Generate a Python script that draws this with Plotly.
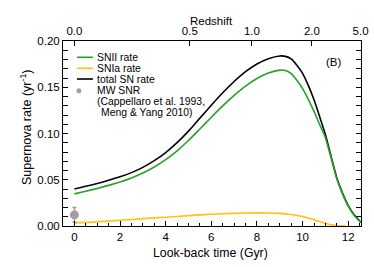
import plotly.graph_objects as go

# Look-back time (Gyr) sample points
lookback = [0, 0.5, 1, 1.5, 2, 2.5, 3, 3.5, 4, 4.5, 5, 5.5, 6, 6.5, 7, 7.5, 8, 8.5, 9,
            9.25, 9.5, 9.75, 10, 10.25, 10.5, 10.75, 11, 11.25, 11.5, 11.75, 12, 12.25, 12.56]
total_rate = [0.0401, 0.0429, 0.0460, 0.0494, 0.0532, 0.0577, 0.0634, 0.0706, 0.0794, 0.0901, 0.1026,
              0.1166, 0.1306, 0.1440, 0.1562, 0.1668, 0.1752, 0.1809, 0.1838,
              0.1834, 0.1806, 0.1737, 0.1650, 0.1520, 0.1365, 0.1180, 0.0990, 0.0750, 0.0520, 0.0355,
              0.0220, 0.0125, 0.0040]
snii_rate = [0.0347, 0.0375, 0.0406, 0.0439, 0.0476, 0.0519, 0.0572, 0.0638, 0.0717, 0.0813, 0.0924,
             0.1049, 0.1176, 0.1298, 0.1412, 0.1513, 0.1595, 0.1654, 0.1685,
             0.1680, 0.1648, 0.1575, 0.1485, 0.1370, 0.1240, 0.1095, 0.0955, 0.0735, 0.0510, 0.0347,
             0.0214, 0.0120, 0.0036]
snia_lookback = [0, 1, 2, 3, 4, 5, 6, 7, 8, 8.5, 9, 9.5, 10, 10.5, 11, 11.25, 11.5, 11.9]
snia_rate = [0.0034, 0.0045, 0.0062, 0.0080, 0.0095, 0.0112, 0.0127, 0.0137, 0.0142, 0.0141, 0.0137,
             0.0124, 0.0103, 0.0068, 0.0030, 0.0012, 0.0002, 0.0]

# Milky Way SNR point
mw_time = [0]
mw_rate = [0.012]
mw_err = [0.008]

# Top axis: redshift ticks at corresponding look-back times
z_tick_lookback = [0, 5.06, 7.78, 10.41, 12.54]
z_tick_labels = ["0.0", "0.5", "1.0", "2.0", "5.0"]

FONT = "Liberation Sans, Arial, Helvetica, sans-serif"
GREEN = "#27a02a"
YELLOW = "#ffc20e"
GRAY = "#a0a0a0"

line_style = dict(width=1.6, shape="spline", smoothing=0.6)
fig = go.Figure()
fig.add_trace(go.Scatter(x=lookback, y=total_rate, mode="lines", line=dict(color="black", **line_style), showlegend=False))
fig.add_trace(go.Scatter(x=lookback, y=snii_rate, mode="lines", line=dict(color=GREEN, **line_style), showlegend=False))
fig.add_trace(go.Scatter(x=snia_lookback, y=snia_rate, mode="lines", line=dict(color=YELLOW, **line_style), showlegend=False))
fig.add_trace(go.Scatter(x=mw_time, y=mw_rate, mode="markers",
                         marker=dict(color=GRAY, size=9),
                         error_y=dict(type="data", array=mw_err, color=GRAY, thickness=1.5, width=2),
                         showlegend=False, cliponaxis=False))
# invisible trace to carry the top axis
fig.add_trace(go.Scatter(x=z_tick_lookback, y=[0.1]*len(z_tick_lookback), xaxis="x2", mode="lines",
                         line=dict(width=0), opacity=0, showlegend=False, hoverinfo="skip"))

x0, x1 = 63, 361.5
y0, y1 = 226, 41
W, H = 374, 267
def px(x): return (x - x0) / (x1 - x0)
def py(y): return (y0 - y) / (y0 - y1)

# compact legend drawn inside the plot
legend_items = [("SNII rate", GREEN, 57.3), ("SNIa rate", YELLOW, 68.3), ("total SN rate", "black", 79.0)]
shapes = []
annotations = []
LEG = 10.4
for name, col, yy in legend_items:
    shapes.append(dict(type="line", xref="paper", yref="paper", x0=px(77), x1=px(93), y0=py(yy), y1=py(yy),
                       line=dict(color=col, width=1.6)))
    annotations.append(dict(xref="paper", yref="paper", x=px(95.5), y=py(yy), text=name, showarrow=False,
                            xanchor="left", yanchor="middle", font=dict(size=LEG, color="black", family=FONT)))
shapes.append(dict(type="circle", xref="paper", yref="paper", x0=px(76.5), x1=px(81.5), y0=py(93.2), y1=py(88.2),
                   fillcolor=GRAY, line=dict(color=GRAY, width=0)))
for txt, xx, yy in [("MW SNR", 95.5, 90.5), ("(Cappellaro et al. 1993,", 95.5, 101.5), ("Meng &amp; Yang 2010)", 99, 112.5)]:
    annotations.append(dict(xref="paper", yref="paper", x=px(xx), y=py(yy), text=txt, showarrow=False,
                            xanchor="left", yanchor="middle", font=dict(size=LEG, color="black", family=FONT)))
annotations.append(dict(xref="paper", yref="paper", x=px(334), y=py(61.7), text="(B)", showarrow=False,
                        xanchor="center", yanchor="middle", font=dict(size=11.5, color="black", family=FONT)))
# axis titles
annotations.append(dict(xref="paper", yref="paper", x=px(211), y=py(253), text="Look-back time (Gyr)",
                        showarrow=False, xanchor="center", yanchor="middle",
                        font=dict(size=12.3, color="black", family=FONT)))
annotations.append(dict(xref="paper", yref="paper", x=px(212), y=py(20.5), text="Redshift",
                        showarrow=False, xanchor="center", yanchor="middle",
                        font=dict(size=11.5, color="black", family=FONT)))
annotations.append(dict(xref="paper", yref="paper", x=px(26), y=py(128), text="Supernova rate (yr<sup>-1</sup>)",
                        showarrow=False, xanchor="center", yanchor="middle", textangle=-90,
                        font=dict(size=12.5, color="black", family=FONT)))

axis_common = dict(showline=True, linecolor="black", linewidth=1, ticks="inside", tickcolor="black",
                   tickwidth=1, showgrid=False, zeroline=False, automargin=False,
                   ticklabeloverflow="allow",
                   tickfont=dict(size=11.5, color="black", family=FONT))

fig.update_layout(
    width=W, height=H,
    margin=dict(l=x0, r=W - x1, t=y1, b=H - y0, pad=0),
    paper_bgcolor="white", plot_bgcolor="white",
    font=dict(family=FONT, color="black", size=11),
    shapes=shapes, annotations=annotations,
    xaxis=dict(range=[-0.5, 12.56], tickvals=[0, 2, 4, 6, 8, 10, 12], ticklen=5, mirror=False,
               minor=dict(dtick=0.5, ticks="inside", ticklen=3, tickcolor="black", tickwidth=1, showgrid=False),
               **axis_common),
    xaxis2=dict(range=[-0.5, 12.56], overlaying="x", side="top", anchor="y",
                tickvals=z_tick_lookback, ticktext=z_tick_labels, ticklen=5,
                **axis_common),
    yaxis=dict(range=[0, 0.2], tickvals=[0, 0.05, 0.1, 0.15, 0.2], tickformat=".2f", ticklen=5,
               mirror="allticks",
               minor=dict(dtick=0.01, ticks="inside", ticklen=3, tickcolor="black", tickwidth=1, showgrid=False),
               **axis_common),
)

fig.write_html("out.html", config={"displayModeBar": False},
               post_script="document.body.style.margin='0';")
